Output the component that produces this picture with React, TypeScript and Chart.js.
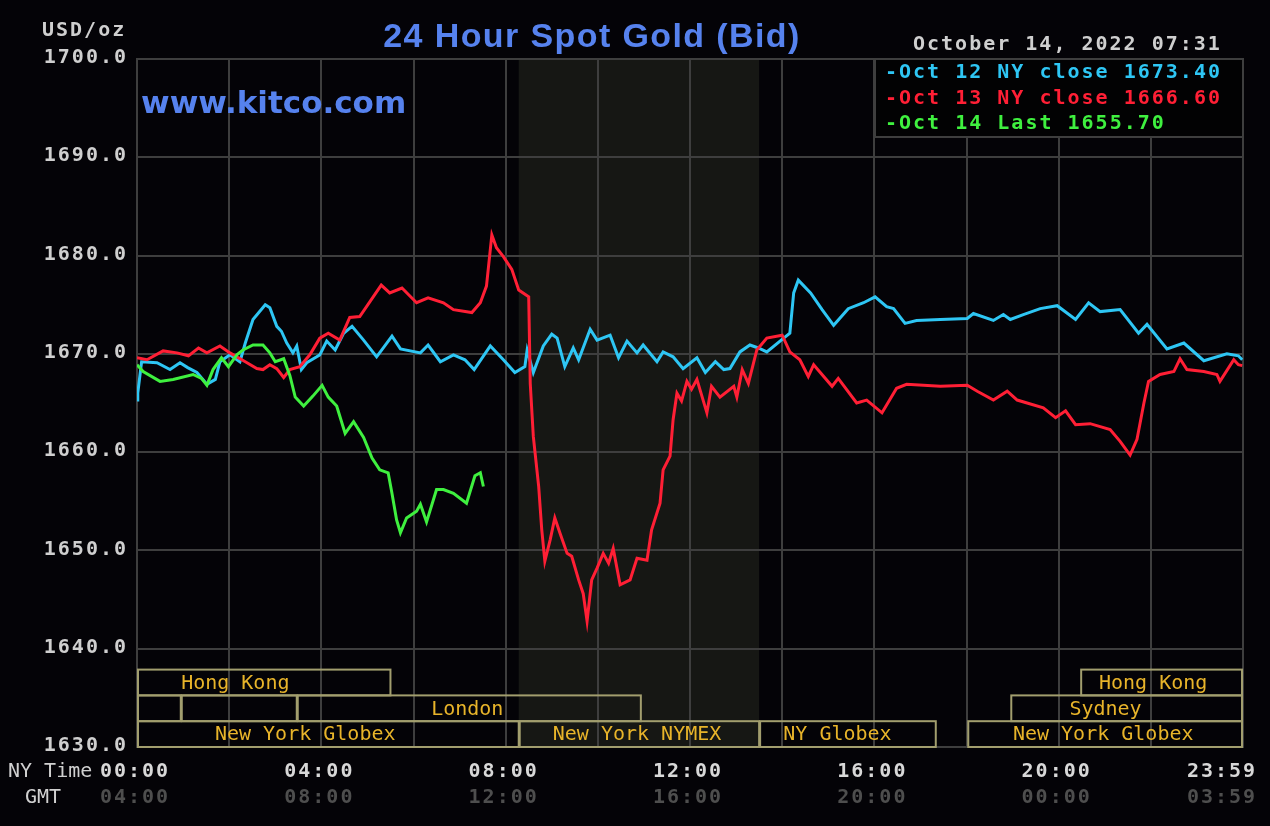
import { useEffect, useRef } from "react";
import { Chart, registerables } from "chart.js";

Chart.register(...registerables);

// ---------- data ----------
const priceTicks = [1700, 1690, 1680, 1670, 1660, 1650, 1640, 1630];
const tickMinutes = [0, 240, 480, 720, 960, 1200, 1439];
const nyTimeLabels = ["00:00", "04:00", "08:00", "12:00", "16:00", "20:00", "23:59"];
const gmtLabels = ["04:00", "08:00", "12:00", "16:00", "20:00", "00:00", "03:59"];

const oct12Minutes = [0, 1, 6, 26, 43, 56, 66, 78, 91, 102, 108, 121, 134, 141, 151, 167, 173, 182, 188, 195, 203, 208, 214, 221, 234, 238, 247, 258, 269, 280, 295, 312, 332, 343, 369, 379, 395, 412, 427, 439, 460, 477, 492, 505, 508, 516, 529, 540, 547, 557, 568, 575, 590, 599, 616, 627, 638, 651, 659, 677, 685, 698, 711, 729, 740, 753, 764, 772, 785, 798, 809, 820, 842, 850, 855, 861, 877, 892, 907, 926, 946, 961, 976, 985, 1000, 1015, 1046, 1081, 1089, 1115, 1128, 1137, 1154, 1176, 1198, 1222, 1239, 1254, 1280, 1304, 1315, 1341, 1363, 1389, 1419, 1434, 1439];
const oct12Values = [1665.3, 1666.0, 1669.2, 1669.1, 1668.4, 1669.1, 1668.6, 1668.1, 1666.9, 1667.4, 1669.2, 1669.9, 1669.2, 1671.1, 1673.5, 1675.0, 1674.7, 1672.8, 1672.3, 1671.1, 1670.1, 1670.8, 1668.4, 1669.1, 1669.7, 1669.9, 1671.3, 1670.4, 1672.1, 1672.8, 1671.4, 1669.7, 1671.8, 1670.5, 1670.1, 1670.9, 1669.2, 1669.9, 1669.4, 1668.4, 1670.8, 1669.4, 1668.1, 1668.7, 1670.4, 1668.1, 1670.8, 1672.0, 1671.6, 1668.7, 1670.6, 1669.4, 1672.5, 1671.4, 1671.9, 1669.6, 1671.3, 1670.1, 1670.9, 1669.2, 1670.2, 1669.7, 1668.5, 1669.6, 1668.1, 1669.2, 1668.4, 1668.5, 1670.2, 1670.9, 1670.6, 1670.2, 1671.6, 1672.1, 1676.2, 1677.5, 1676.2, 1674.5, 1672.9, 1674.6, 1675.2, 1675.8, 1674.8, 1674.6, 1673.1, 1673.4, 1673.5, 1673.6, 1674.1, 1673.4, 1674.0, 1673.5, 1674.0, 1674.6, 1674.9, 1673.5, 1675.2, 1674.3, 1674.5, 1672.1, 1673.0, 1670.5, 1671.1, 1669.3, 1670.0, 1669.8, 1669.4];

const oct13Minutes = [0, 13, 34, 52, 67, 80, 91, 108, 121, 141, 156, 164, 173, 182, 191, 199, 212, 225, 238, 249, 264, 277, 290, 318, 329, 345, 364, 379, 399, 412, 436, 447, 455, 462, 468, 477, 488, 497, 510, 512, 516, 523, 527, 531, 538, 544, 551, 560, 566, 575, 581, 586, 592, 599, 607, 614, 620, 629, 642, 651, 664, 670, 681, 685, 694, 698, 703, 709, 716, 722, 729, 742, 748, 759, 777, 781, 788, 796, 807, 820, 840, 850, 863, 874, 881, 905, 913, 937, 950, 970, 989, 1002, 1046, 1081, 1094, 1115, 1133, 1146, 1180, 1196, 1209, 1222, 1241, 1267, 1280, 1293, 1302, 1311, 1317, 1332, 1350, 1358, 1367, 1389, 1406, 1410, 1428, 1434, 1439];
const oct13Values = [1669.6, 1669.4, 1670.3, 1670.1, 1669.8, 1670.6, 1670.1, 1670.8, 1670.1, 1669.2, 1668.5, 1668.4, 1668.9, 1668.5, 1667.6, 1668.4, 1668.7, 1669.9, 1671.6, 1672.1, 1671.4, 1673.7, 1673.8, 1677.0, 1676.2, 1676.7, 1675.2, 1675.7, 1675.2, 1674.5, 1674.2, 1675.2, 1676.9, 1682.1, 1680.8, 1679.9, 1678.6, 1676.5, 1675.8, 1667.0, 1661.6, 1656.5, 1652.1, 1648.9, 1651.1, 1653.3, 1651.7, 1649.7, 1649.4, 1647.0, 1645.6, 1642.8, 1647.0, 1648.2, 1649.7, 1648.7, 1650.2, 1646.5, 1647.0, 1649.2, 1649.0, 1652.1, 1654.8, 1658.2, 1659.6, 1663.3, 1666.0, 1665.2, 1667.2, 1666.4, 1667.4, 1664.0, 1666.7, 1665.6, 1666.7, 1665.6, 1668.4, 1667.0, 1670.4, 1671.6, 1671.9, 1670.2, 1669.4, 1667.7, 1668.9, 1666.7, 1667.5, 1665.0, 1665.3, 1664.0, 1666.5, 1666.9, 1666.7, 1666.8, 1666.2, 1665.3, 1666.2, 1665.3, 1664.5, 1663.5, 1664.2, 1662.8, 1662.9, 1662.3, 1661.1, 1659.7, 1661.3, 1665.0, 1667.2, 1667.9, 1668.2, 1669.5, 1668.4, 1668.2, 1667.9, 1667.2, 1669.4, 1668.9, 1668.8];

const oct14Minutes = [0, 8, 30, 47, 73, 84, 91, 99, 110, 119, 130, 138, 151, 164, 173, 180, 191, 199, 206, 217, 229, 241, 249, 260, 271, 282, 295, 306, 316, 327, 332, 338, 343, 351, 364, 369, 377, 390, 399, 412, 429, 440, 447, 451];
const oct14Values = [1668.9, 1668.2, 1667.2, 1667.4, 1667.9, 1667.5, 1666.8, 1668.4, 1669.6, 1668.7, 1669.9, 1670.4, 1670.9, 1670.9, 1670.1, 1669.2, 1669.5, 1667.8, 1665.6, 1664.7, 1665.7, 1666.8, 1665.6, 1664.7, 1661.9, 1663.1, 1661.5, 1659.4, 1658.2, 1657.9, 1655.8, 1653.1, 1651.8, 1653.3, 1654.0, 1654.7, 1652.9, 1656.2, 1656.2, 1655.8, 1654.8, 1657.6, 1657.9, 1656.5];

const legendLabels = ["-Oct 12 NY close 1673.40", "-Oct 13 NY close 1666.60", "-Oct 14 Last 1655.70"];
const seriesColors = ["#2ec6f4", "#ff1f35", "#3ff03f"];

const sessionNames = ["Hong Kong", "", "", "London", "New York Globex", "New York NYMEX", "NY Globex", "New York Globex", "Sydney", "Hong Kong"];
const sessionStart = [0, 0, 57, 208, 0, 497, 810, 1081, 1137, 1228];
const sessionEnd = [330, 57, 208, 656, 497, 810, 1040, 1440, 1440, 1440];
const sessionRow = [0, 1, 1, 1, 2, 2, 2, 2, 1, 0];
const sessionLabelAt = [128, 0, 0, 430, 219, 651, 912, 1258, 1261, 1323];

const nymexShade = [497, 810];

// ---------- styles ----------
const BG = "#040307";
const GRID = "#3e3e3e";
const BLUE = "#5682ee";
const BOLD_MONO = 'bold 20px "DejaVu Sans Mono"';
const MONO = '20px "DejaVu Sans Mono"';

function txt(ctx: CanvasRenderingContext2D, s: string, x: number, y: number, font: string, color: string, align: CanvasTextAlign, spacing = "0px", baseline: CanvasTextBaseline = "middle") {
  ctx.save();
  ctx.font = font;
  (ctx as any).letterSpacing = spacing;
  ctx.fillStyle = color;
  ctx.textAlign = align;
  ctx.textBaseline = baseline;
  ctx.fillText(s, x, y);
  ctx.restore();
}

const kitcoPlugin = {
  id: "kitco",
  beforeDraw(chart: any) {
    const { ctx, chartArea: a, scales } = chart;
    ctx.save();
    ctx.fillStyle = BG;
    ctx.fillRect(0, 0, chart.width, chart.height);
    const x0 = scales.x.getPixelForValue(nymexShade[0]);
    const x1 = scales.x.getPixelForValue(nymexShade[1]);
    ctx.fillStyle = "#161714";
    ctx.fillRect(x0, a.top, x1 - x0, a.bottom - a.top);
    ctx.restore();
  },
  beforeDatasetsDraw(chart: any) {
    const { ctx, chartArea: a, scales } = chart;
    const xs = scales.x;
    ctx.save();
    // session boxes
    const rowH = 25.8;
    ctx.strokeStyle = "#a29e6e";
    ctx.lineWidth = 2;
    for (let i = 0; i < sessionNames.length; i++) {
      const r = sessionRow[i];
      const top = a.bottom - (3 - r) * rowH;
      const l = xs.getPixelForValue(sessionStart[i]);
      const rr = Math.min(xs.getPixelForValue(sessionEnd[i]), a.right - 1);
      ctx.strokeRect(l + 1, top, rr - l - 1, rowH);
    }
    for (let i = 0; i < sessionNames.length; i++) {
      if (!sessionNames[i]) continue;
      const r = sessionRow[i];
      const top = a.bottom - (3 - r) * rowH;
      txt(ctx, sessionNames[i], xs.getPixelForValue(sessionLabelAt[i]), top + rowH / 2 + 1, MONO, "#e8b42a", "center");
    }
    // legend box
    ctx.fillStyle = "#020203";
    ctx.fillRect(875, a.top, a.right - 875, 78);
    ctx.strokeStyle = GRID;
    ctx.lineWidth = 2;
    ctx.strokeRect(875, a.top, a.right - 875, 78);
    ctx.restore();
  },
  afterDraw(chart: any) {
    const { ctx, scales } = chart;
    const xs = scales.x;
    const ys = scales.y;
    // title & site
    txt(ctx, "24 Hour Spot Gold (Bid)", 592, 47, 'bold 34px "Liberation Sans"', BLUE, "center", "1.4px", "alphabetic");
    txt(ctx, "www.kitco.com", 141, 113, 'bold 31px "DejaVu Sans"', BLUE, "left", "0px", "alphabetic");
    txt(ctx, "USD/oz", 42, 31, BOLD_MONO, "#cfcfcf", "left", "2px");
    txt(ctx, "October 14, 2022 07:31", 913, 45, BOLD_MONO, "#cfcfcf", "left", "2px");
    // legend
    for (let i = 0; i < legendLabels.length; i++) {
      txt(ctx, legendLabels[i], 885, 73 + i * 25.5, BOLD_MONO, seriesColors[i], "left", "2px");
    }
    // y labels
    for (const p of priceTicks) {
      txt(ctx, p.toFixed(1), 128, ys.getPixelForValue(p) - 1, BOLD_MONO, "#cfcfcf", "right", "2px");
    }
    // x labels
    txt(ctx, "NY Time", 8, 772, MONO, "#d0d0d0", "left");
    txt(ctx, "GMT", 25, 798, MONO, "#d0d0d0", "left");
    for (let i = 0; i < tickMinutes.length; i++) {
      let cx = xs.getPixelForValue(tickMinutes[i]) - 2;
      cx = Math.min(cx, chart.width - 48);
      txt(ctx, nyTimeLabels[i], cx, 772, BOLD_MONO, "#d8d8d8", "center", "2px");
      txt(ctx, gmtLabels[i], cx, 798, BOLD_MONO, "#4e4e4e", "center", "2px");
    }
  },
};

export default function App() {
  const ref = useRef<HTMLCanvasElement>(null);
  useEffect(() => {
    if (!ref.current) return;
    const mk = (m: number[], v: number[]) => m.map((x, i) => ({ x, y: v[i] }));
    const chart = new Chart(ref.current, {
      type: "line",
      data: {
        datasets: [
          { label: "Oct 14", data: mk(oct14Minutes, oct14Values), borderColor: seriesColors[2], borderWidth: 3, pointRadius: 0, tension: 0, order: 0 },
          { label: "Oct 13", data: mk(oct13Minutes, oct13Values), borderColor: seriesColors[1], borderWidth: 3, pointRadius: 0, tension: 0, order: 1 },
          { label: "Oct 12", data: mk(oct12Minutes, oct12Values), borderColor: seriesColors[0], borderWidth: 3, pointRadius: 0, tension: 0, order: 2 },
        ],
      },
      options: {
        responsive: false,
        devicePixelRatio: 1,
        animation: false,
        layout: { padding: { left: 137, top: 59, right: 27, bottom: 79 } },
        plugins: { legend: { display: false }, tooltip: { enabled: false }, title: { display: false } },
        scales: {
          x: {
            type: "linear",
            min: 0,
            max: 1440,
            ticks: { display: false, stepSize: 120 },
            grid: { color: GRID, lineWidth: 2, drawTicks: false },
            border: { color: GRID, width: 2 },
          },
          y: {
            type: "linear",
            min: 1630,
            max: 1700,
            ticks: { display: false, stepSize: 10 },
            grid: { color: GRID, lineWidth: 2, drawTicks: false },
            border: { color: GRID, width: 2 },
          },
        },
      },
      plugins: [kitcoPlugin],
    });
    return () => chart.destroy();
  }, []);
  return (
    <div style={{ position: "absolute", left: 0, top: 0, width: 1270, height: 826, background: BG }}>
      <canvas ref={ref} width={1270} height={826} style={{ display: "block" }} />
    </div>
  );
}
